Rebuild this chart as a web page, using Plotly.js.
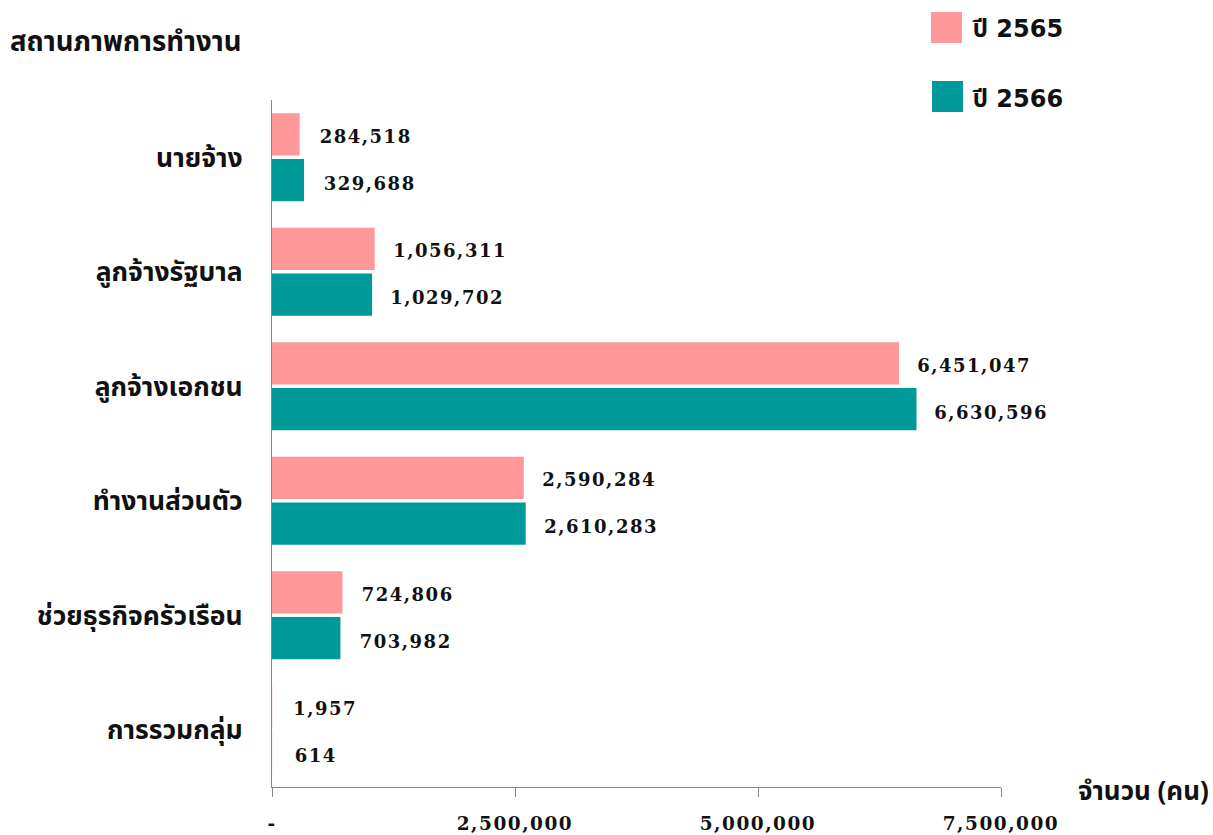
<!DOCTYPE html>
<html>
<head>
<meta charset="utf-8">
<script src="https://cdn.plot.ly/plotly-3.0.1.min.js"></script>
<style>
  body { margin: 0; background: #fff; }
  #chart { width: 1213px; height: 835px; }
  .annotation-text.vlabel, .xtick text { letter-spacing: 1.5px; }
</style>
</head>
<body>
<div id="chart"></div>
<script>
const categories = ['นายจ้าง', 'ลูกจ้างรัฐบาล', 'ลูกจ้างเอกชน', 'ทำงานส่วนตัว', 'ช่วยธุรกิจครัวเรือน', 'การรวมกลุ่ม'];
const seriesNames = ['ปี 2565', 'ปี 2566'];
const values2565 = [284518, 1056311, 6451047, 2590284, 724806, 1957];
const values2566 = [329688, 1029702, 6630596, 2610283, 703982, 614];
const tickVals = [0, 2500000, 5000000, 7500000];
const tickLabels = ['-', '2,500,000', '5,000,000', '7,500,000'];
const chartTitle = 'สถานภาพการทำงาน';
const axisTitle = 'จำนวน (คน)';

const colors = ['#FF9999', '#009999'];
const thaiFont = '"Noto Sans Thai", "Noto Sans", "DejaVu Sans", sans-serif';
const legendFont = '"DejaVu Sans", "Noto Sans Thai", sans-serif';
const numFont = '"DejaVu Serif", "Liberation Serif", serif';

const seriesValues = [values2565, values2566];

const traces = seriesValues.map((vals, i) => ({
  type: 'bar',
  orientation: 'h',
  name: seriesNames[i],
  x: vals,
  y: categories,
  marker: { color: colors[i] },
  showlegend: false,
  hoverinfo: 'x+y'
}));

const W = 1213, H = 835, L = 272, R = 212, T = 100, B = 48;
const plotW = W - L - R, plotH = H - T - B;
function px2paperX(px) { return (px - L) / plotW; }
function py2paperY(py) { return (H - B - py) / plotH; }

const annotations = [];
seriesValues.forEach((vals, i) => {
  vals.forEach((v, j) => {
    annotations.push({
      x: v, y: categories[j], xref: 'x', yref: 'y',
      text: '<b>' + v.toLocaleString('en-US') + '</b>',
      showarrow: false, xanchor: 'left', yanchor: 'middle',
      xshift: 23, yshift: i === 0 ? 21 : -26,
      font: { family: numFont, size: 18, color: '#111' }
    });
  });
});

annotations.push({
  x: px2paperX(8), y: py2paperY(43), xref: 'paper', yref: 'paper', text: '<b>' + chartTitle + '</b>',
  showarrow: false, xanchor: 'left', yanchor: 'middle',
  font: { family: thaiFont, size: 27.5, color: '#111' }
});
annotations.push({
  x: px2paperX(1076), y: py2paperY(792), xref: 'paper', yref: 'paper', text: '<b>' + axisTitle + '</b>',
  showarrow: false, xanchor: 'left', yanchor: 'middle',
  font: { family: thaiFont, size: 26, color: '#111' }
});

const shapes = [];
const legendSquares = [[931, 12, 962, 43], [932, 81, 963, 112]];
seriesNames.forEach((n, i) => {
  const s = legendSquares[i];
  shapes.push({
    type: 'rect', xref: 'paper', yref: 'paper',
    x0: px2paperX(s[0]), x1: px2paperX(s[2]), y0: py2paperY(s[3]), y1: py2paperY(s[1]),
    fillcolor: colors[i], line: { width: 0 }
  });
  annotations.push({
    x: px2paperX(970), y: py2paperY((s[1] + s[3]) / 2 + 2), xref: 'paper', yref: 'paper',
    text: '<b>' + n + '</b>', showarrow: false, xanchor: 'left', yanchor: 'middle',
    font: { family: legendFont, size: 24, color: '#111' }
  });
});

const layout = {
  width: W, height: H,
  margin: { l: L, r: R, t: T, b: B, pad: 0 },
  paper_bgcolor: '#fff', plot_bgcolor: '#fff',
  barmode: 'group', bargap: 0.2, bargroupgap: 0.08,
  showlegend: false,
  xaxis: {
    range: [0, 7500000], tickvals: tickVals, ticktext: tickLabels,
    ticks: 'outside', ticklen: 9, tickcolor: '#888', tickwidth: 1,
    showline: true, linecolor: '#888', linewidth: 1,
    showgrid: false, zeroline: false, ticklabelstandoff: 11,
    tickfont: { family: numFont, size: 18.5, color: '#111', weight: 'bold' },
    fixedrange: true
  },
  yaxis: {
    type: 'category', range: [5.5, -0.5],
    showline: true, linecolor: '#888', linewidth: 1,
    ticks: '', showgrid: false, zeroline: false, ticklabelstandoff: 23,
    tickfont: { family: thaiFont, size: 26.5, color: '#111', weight: 'bold' },
    fixedrange: true
  },
  annotations: annotations,
  shapes: shapes
};

Plotly.newPlot('chart', traces, layout, { staticPlot: true, displayModeBar: false }).then(() => {
  document.querySelectorAll('.annotation-text').forEach(t => {
    if (/^[\d,]+$/.test(t.textContent)) t.classList.add('vlabel');
  });
});
</script>
</body>
</html>
